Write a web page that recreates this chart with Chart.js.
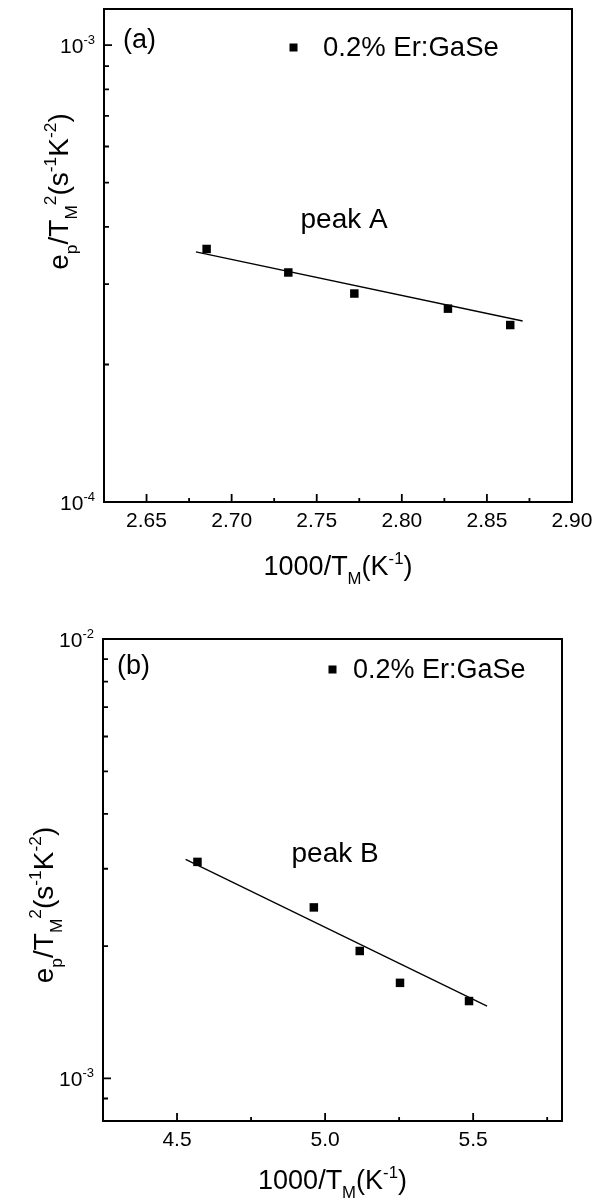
<!DOCTYPE html>
<html>
<head>
<meta charset="utf-8">
<script src="https://cdn.jsdelivr.net/npm/chart.js@4.4.1/dist/chart.umd.min.js"></script>
<style>
  html, body { margin: 0; padding: 0; background: #fff; }
  #wrap { position: relative; width: 603px; height: 1203px; }
  canvas { position: absolute; left: 0; }
  #chartA { top: 0; }
  #chartB { top: 600px; }
</style>
</head>
<body>
<div id="wrap">
  <canvas id="chartA" width="603" height="600"></canvas>
  <canvas id="chartB" width="603" height="603"></canvas>
</div>
<script>
const FONT = '"Liberation Sans", Arial, Helvetica, sans-serif';

// Panel (a): peak A
const tempA = [2.6853, 2.7333, 2.7721, 2.8271, 2.8637];
const rateA = [3.58e-4, 3.18e-4, 2.86e-4, 2.65e-4, 2.44e-4];
const fitTempA = [2.679, 2.871];
const fitRateA = [3.53e-4, 2.49e-4];
const xTicksA = [2.65, 2.70, 2.75, 2.80, 2.85, 2.90];
const xLabelsA = ['2.65', '2.70', '2.75', '2.80', '2.85', '2.90'];
const xMinorA = [2.675, 2.725, 2.775, 2.825, 2.875];
const yTicksA = [1e-4, 1e-3];
const yExpA = ['-4', '-3'];
const yMinorA = [2e-4, 3e-4, 4e-4, 5e-4, 6e-4, 7e-4, 8e-4, 9e-4];

// Panel (b): peak B
const tempB = [4.569, 4.962, 5.117, 5.253, 5.486];
const rateB = [3.11e-3, 2.45e-3, 1.95e-3, 1.65e-3, 1.50e-3];
const fitTempB = [4.529, 5.547];
const fitRateB = [3.15e-3, 1.46e-3];
const xTicksB = [4.5, 5.0, 5.5];
const xLabelsB = ['4.5', '5.0', '5.5'];
const xMinorB = [4.75, 5.25, 5.75];
const yTicksB = [1e-3, 1e-2];
const yExpB = ['-3', '-2'];
const yMinorB = [8e-4, 9e-4, 2e-3, 3e-3, 4e-3, 5e-3, 6e-3, 7e-3, 8e-3, 9e-3];

const legendText = '0.2% Er:GaSe';
const yTitleParts = [['e', 0], ['p', -1], ['/T', 0], ['M', -1], ['2', 1], ['(s', 0], ['-1', 1], ['K', 0], ['-2', 1], [')', 0]];
const xTitleParts = [['1000/T', 0], ['M', -1], ['(K', 0], ['-1', 1], [')', 0]];

function richWidth(ctx, parts, size) {
  let w = 0;
  parts.forEach(([t, k]) => {
    ctx.font = (k ? size * 0.62 : size) + 'px ' + FONT;
    w += ctx.measureText(t).width;
  });
  return w;
}

function drawRich(ctx, parts, x, y, size) {
  ctx.textAlign = 'left';
  ctx.textBaseline = 'alphabetic';
  parts.forEach(([t, k]) => {
    ctx.font = (k ? size * 0.62 : size) + 'px ' + FONT;
    const dy = k === -1 ? size * 0.33 : (k === 1 ? -size * 0.42 : 0);
    ctx.fillText(t, x, y + dy);
    x += ctx.measureText(t).width;
  });
}

const deco = {
  id: 'deco',
  afterDraw(chart, args, o) {
    const { ctx, chartArea: a } = chart;
    const x = chart.scales.x, y = chart.scales.y;
    ctx.save();
    ctx.strokeStyle = '#000';
    ctx.fillStyle = '#000';

    // inward ticks
    ctx.lineWidth = 1.8;
    ctx.beginPath();
    o.xMajor.forEach(v => { const p = x.getPixelForValue(v); ctx.moveTo(p, a.bottom); ctx.lineTo(p, a.bottom - 8); });
    o.xMinor.forEach(v => { const p = x.getPixelForValue(v); ctx.moveTo(p, a.bottom); ctx.lineTo(p, a.bottom - 4); });
    o.yMajor.forEach(v => { const p = y.getPixelForValue(v); ctx.moveTo(a.left, p); ctx.lineTo(a.left + 8, p); });
    o.yMinor.forEach(v => { const p = y.getPixelForValue(v); ctx.moveTo(a.left, p); ctx.lineTo(a.left + 5, p); });
    ctx.stroke();

    // frame
    ctx.lineWidth = 2;
    ctx.strokeRect(a.left, a.top, a.right - a.left, a.bottom - a.top);

    // y tick labels 10^n
    ctx.textAlign = 'right';
    ctx.textBaseline = 'alphabetic';
    o.yMajor.forEach((v, i) => {
      const p = y.getPixelForValue(v);
      ctx.font = '13px ' + FONT;
      const sw = ctx.measureText(o.yExp[i]).width;
      ctx.fillText(o.yExp[i], a.left - 9, p - 1);
      ctx.font = '21px ' + FONT;
      ctx.fillText('10', a.left - 9 - sw, p + 8);
    });

    // panel tag
    ctx.textAlign = 'left';
    ctx.font = '27px ' + FONT;
    ctx.fillText(o.tag, o.tagX, o.tagY);

    // legend
    ctx.fillRect(o.legX - 4, o.legY - 4, 8, 8);
    ctx.font = o.legSize + 'px ' + FONT;
    ctx.fillText(legendText, o.legTextX, o.legTextY);

    // peak label
    ctx.font = '28px ' + FONT;
    ctx.fillText(o.peak, o.peakX, o.peakY);

    // x title
    const xw = richWidth(ctx, xTitleParts, 27);
    drawRich(ctx, xTitleParts, o.xTitleCx - xw / 2, o.xTitleY, 27);

    // y title (rotated)
    const yw = richWidth(ctx, yTitleParts, 28);
    ctx.translate(o.yTitleX, o.yTitleCy);
    ctx.rotate(-Math.PI / 2);
    drawRich(ctx, yTitleParts, -yw / 2, 0, 28);
    ctx.restore();
  }
};

function makeChart(id, d) {
  const pts = d.xs.map((v, i) => ({ x: v, y: d.ys[i] }));
  const fit = d.fx.map((v, i) => ({ x: v, y: d.fy[i] }));
  return new Chart(document.getElementById(id), {
    type: 'scatter',
    data: {
      datasets: [{
        data: pts,
        pointStyle: 'rect',
        pointRadius: 6,
        pointBorderWidth: 0,
        pointBackgroundColor: '#000',
        showLine: false
      }, {
        data: fit,
        showLine: true,
        borderColor: '#000',
        borderWidth: 1.3,
        pointRadius: 0,
        fill: false
      }]
    },
    options: {
      responsive: false,
      animation: false,
      devicePixelRatio: 1,
      layout: { padding: d.pad },
      scales: {
        x: {
          type: 'linear',
          min: d.xMin, max: d.xMax,
          grid: { display: false, drawTicks: false },
          border: { display: false },
          afterBuildTicks: s => { s.ticks = d.xTicks.map(v => ({ value: v })); },
          afterFit: s => { s.height = d.xH; },
          ticks: {
            padding: 7,
            color: '#000',
            font: { family: FONT, size: 21 },
            maxRotation: 0,
            autoSkip: false,
            callback: (v, i) => d.xLabels[i]
          }
        },
        y: {
          type: 'logarithmic',
          min: d.yMin, max: d.yMax,
          grid: { display: false, drawTicks: false },
          border: { display: false },
          afterBuildTicks: s => { s.ticks = d.yTicks.map(v => ({ value: v })); },
          afterFit: s => { s.width = d.yW; },
          ticks: { display: false }
        }
      },
      plugins: {
        legend: { display: false },
        tooltip: { enabled: false },
        deco: d.deco
      }
    },
    plugins: [deco]
  });
}

makeChart('chartA', {
  xs: tempA, ys: rateA, fx: fitTempA, fy: fitRateA,
  xMin: 2.625, xMax: 2.90, yMin: 1e-4, yMax: 1.2e-3,
  xTicks: xTicksA, xLabels: xLabelsA, yTicks: yTicksA,
  pad: { left: 0, top: 9, right: 31, bottom: 0 }, xH: 98, yW: 104,
  deco: {
    xMajor: xTicksA, xMinor: xMinorA, yMajor: yTicksA, yMinor: yMinorA, yExp: yExpA,
    tag: '(a)', tagX: 123, tagY: 48,
    legX: 293.5, legY: 47.5, legTextX: 323, legTextY: 55.5, legSize: 27.5,
    peak: 'peak A', peakX: 300.5, peakY: 228,
    xTitleCx: 338, xTitleY: 575,
    yTitleX: 68, yTitleCy: 191.5
  }
});

makeChart('chartB', {
  xs: tempB, ys: rateB, fx: fitTempB, fy: fitRateB,
  xMin: 4.25, xMax: 5.8, yMin: 8e-4, yMax: 1e-2,
  xTicks: xTicksB, xLabels: xLabelsB, yTicks: yTicksB,
  pad: { left: 0, top: 39, right: 41, bottom: 0 }, xH: 82, yW: 103,
  deco: {
    xMajor: xTicksB, xMinor: xMinorB, yMajor: yTicksB, yMinor: yMinorB, yExp: yExpB,
    tag: '(b)', tagX: 117, tagY: 73.5,
    legX: 332.5, legY: 69.5, legTextX: 353, legTextY: 77.5, legSize: 27,
    peak: 'peak B', peakX: 291.5, peakY: 261.5,
    xTitleCx: 332.5, xTitleY: 589,
    yTitleX: 53, yTitleCy: 305
  }
});
</script>
</body>
</html>
